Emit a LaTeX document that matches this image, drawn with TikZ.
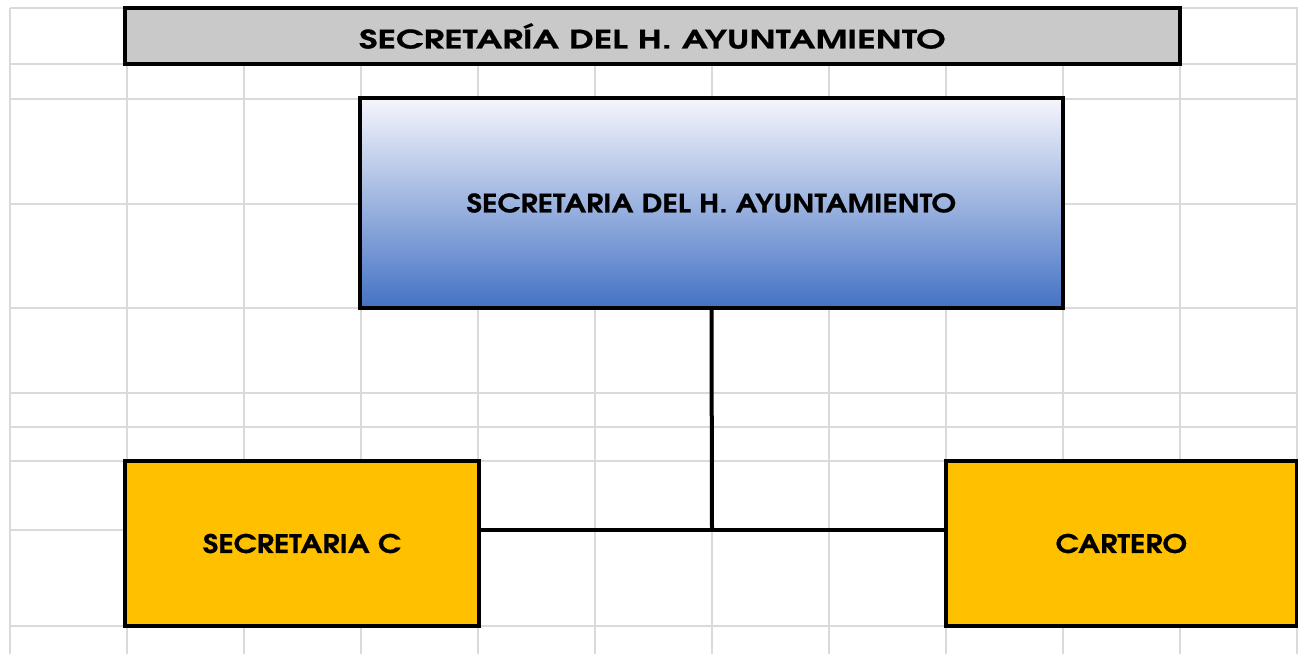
\documentclass[tikz,border=0pt]{standalone}
\usepackage{fontspec}
\setmainfont{TeX Gyre Adventor}
\newfontfamily\letrero[FakeStretch=1.16,FakeBold=0.6]{TeX Gyre Adventor}
\newfontfamily\letreroancho[FakeStretch=1.39,FakeBold=0.6]{TeX Gyre Adventor}
\usepackage{tikz}
\definecolor{celda}{HTML}{DADADA}
\definecolor{titulogris}{HTML}{C9C9C9}
\definecolor{azulclaro}{HTML}{F5F6FC}
\definecolor{azul}{HTML}{4472C4}
\definecolor{ambar}{HTML}{FFC000}
\tikzset{
  caja/.style={draw=black, line width=3.8pt, inner sep=0pt, font=\letrero\fontsize{25.5}{29}\selectfont\bfseries},
  linea/.style={line width=4pt}
}

\begin{document}
\begin{tikzpicture}[x=1pt,y=-1pt]
            \useasboundingbox (0,0) rectangle (1298,654);
            % cuadricula
            \foreach \x in {10,127,...,1297}
                \draw[celda, line width=2pt] (\x,8) -- (\x,654);
            \foreach \y in {8,64,99,204,308,393,427,461,530,626}
                \draw[celda, line width=2pt] (10,\y) -- (1298,\y);
            \node[caja, fill=titulogris, minimum width=1055pt, minimum height=56pt,
                  font=\letreroancho\fontsize{25.5}{29}\selectfont\bfseries] (titulo) at (652.5,36) {SECRETARÍA DEL H. AYUNTAMIENTO};
            \node[caja, top color=azulclaro, bottom color=azul, minimum width=703pt, minimum height=210pt] (secretaria) at (711.5,203) {SECRETARIA DEL H. AYUNTAMIENTO};
            \node[caja, fill=ambar, minimum width=354pt, minimum height=165pt] (secretariac) at (302,543.5) {SECRETARIA C};
            \node[caja, fill=ambar, minimum width=351pt, minimum height=165pt] (cartero) at (1121.5,543.5) {CARTERO};
            \coordinate (union) at (712,530);
            \draw[linea] (secretaria.south) -- (union);
            \draw[linea] (secretariac.east |- union) -- (cartero.west |- union);
        \end{tikzpicture}
\end{document}
